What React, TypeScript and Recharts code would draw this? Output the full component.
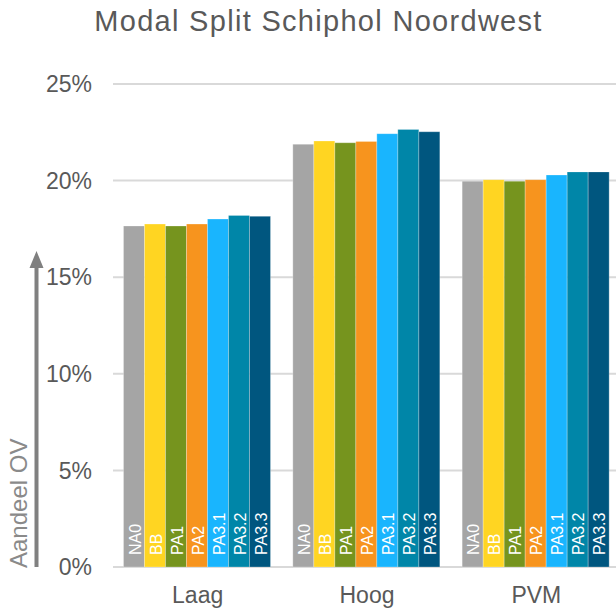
import { BarChart, Bar, XAxis, YAxis, CartesianGrid, LabelList } from 'recharts'

const FONT = '"Liberation Sans", Arial, sans-serif'

const categories = ['Laag', 'Hoog', 'PVM']
const seriesNames = ['NA0', 'BB', 'PA1', 'PA2', 'PA3.1', 'PA3.2', 'PA3.3']
const seriesColors = ['#a5a5a5', '#ffd522', '#76941e', '#f7941e', '#19b5fe', '#0086a8', '#00567f']

// aandeel OV in %
const na0 = [17.65, 21.88, 19.97]
const bb = [17.75, 22.05, 20.05]
const pa1 = [17.65, 21.96, 19.97]
const pa2 = [17.75, 22.03, 20.05]
const pa31 = [18.01, 22.43, 20.29]
const pa32 = [18.2, 22.65, 20.45]
const pa33 = [18.15, 22.53, 20.45]

const yTicks = [0, 5, 10, 15, 20, 25]

const seriesValues = [na0, bb, pa1, pa2, pa31, pa32, pa33]

const data = categories.map((cat, i) => {
  const row: Record<string, string | number> = { name: cat }
  seriesValues.forEach((vals, s) => { row['s' + s] = vals[i] })
  return row
})

const barLabel = (name: string) => (props: any) => {
  const x = Number(props.x), y = Number(props.y)
  const w = Number(props.width), h = Number(props.height)
  const tx = x + w / 2 + 6.5
  const ty = y + h - 12
  return (
    <text x={tx} y={ty} transform={`rotate(-90, ${tx}, ${ty})`} fill="#ffffff"
      fontSize={16} fontFamily={FONT} textAnchor="start">
      {name}
    </text>
  )
}

const AxisArrow = (props: any) => {
  const vb = props.viewBox || {}
  const bottom = vb.y + vb.height
  const ax = vb.x + 36.5
  const tip = bottom - 316
  return (
    <g>
      <line x1={ax} y1={bottom} x2={ax} y2={tip + 15} stroke="#808080" strokeWidth={4} />
      <polygon points={`${ax},${tip} ${ax - 7},${tip + 17} ${ax + 7},${tip + 17}`} fill="#808080" />
      <text x={27} y={bottom + 1} transform={`rotate(-90, 27, ${bottom + 1})`} fill="#8a8a8a"
        fontSize={24} fontFamily={FONT} textAnchor="start">
        Aandeel OV
      </text>
    </g>
  )
}

export default function App() {
  return (
    <div style={{ position: 'fixed', left: 0, top: 0, width: 616, height: 612, overflow: 'hidden', background: '#fff' }}>
      <div style={{
        position: 'absolute', left: 0, top: 7, width: 637, textAlign: 'center',
        fontFamily: FONT, fontSize: 29, lineHeight: '29px', letterSpacing: 1.3, color: '#595959'
      }}>
        Modal Split Schiphol Noordwest
      </div>
      <BarChart width={621} height={612} data={data}
        margin={{ top: 84, right: 0, bottom: 0, left: 0 }}
        barCategoryGap={10.5} barGap={0}>
        <CartesianGrid vertical={false} stroke="#d9d9d9" strokeWidth={2} />
        <XAxis dataKey="name" height={45} axisLine={false} tickLine={false} tickSize={0} tickMargin={20}
          tick={{ fill: '#595959', fontSize: 23, fontFamily: FONT }} />
        <YAxis domain={[0, 25]} ticks={yTicks} width={113} axisLine={false} tickLine={false}
          tickSize={0} tickMargin={21} tickFormatter={(v) => `${v}%`}
          tick={{ fill: '#595959', fontSize: 23, fontFamily: FONT }}
          label={{ content: AxisArrow }} />
        {seriesNames.map((name, s) => (
          <Bar key={name} dataKey={'s' + s} name={name} fill={seriesColors[s]}
            stroke="#ffffff" strokeOpacity={0.25} strokeWidth={1} isAnimationActive={false}>
            <LabelList content={barLabel(name)} />
          </Bar>
        ))}
      </BarChart>
    </div>
  )
}
